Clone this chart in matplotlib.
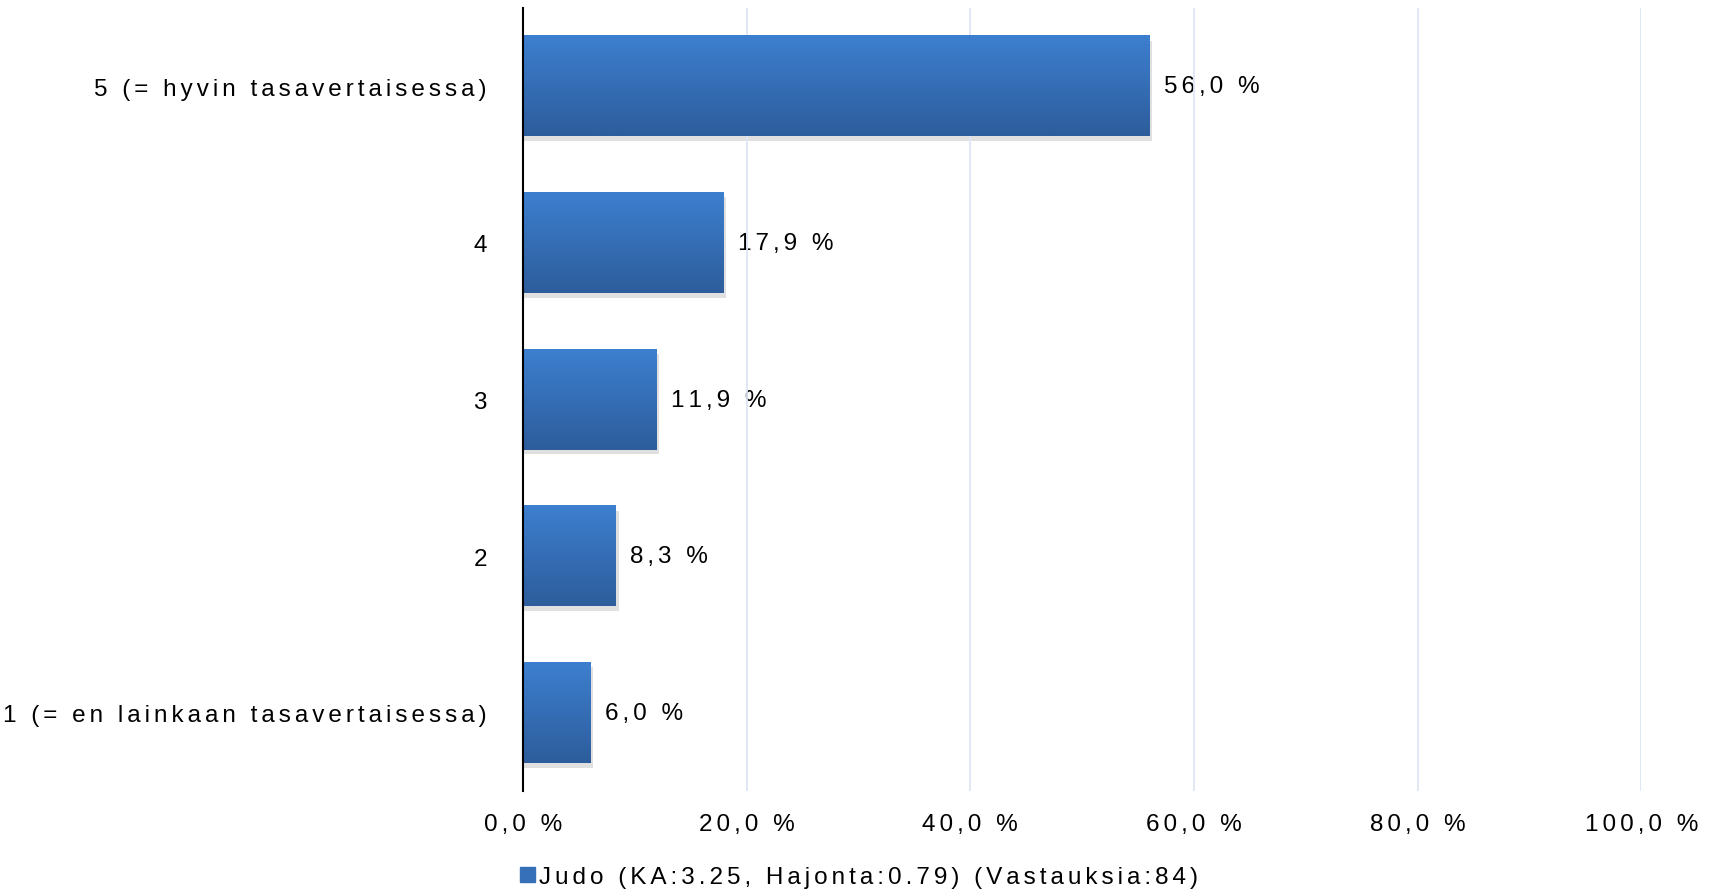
import matplotlib
matplotlib.use("Agg")
import matplotlib.pyplot as plt
import numpy as np
from matplotlib.colors import LinearSegmentedColormap

# data
categories = ["1 (= en lainkaan tasavertaisessa)", "2", "3", "4", "5 (= hyvin tasavertaisessa)"]
values = [6.0, 8.3, 11.9, 17.9, 56.0]
xticks = [0, 20, 40, 60, 80, 100]
legend_label = "Judo (KA:3.25, Hajonta:0.79) (Vastauksia:84)"

plt.rcParams['font.family'] = ['Liberation Sans', 'DejaVu Sans']
FS = 17.5

# the original uses wide letter spacing, fake it with six-per-em spaces
def spaced(s):
    return '\u2006'.join(s)

def pct(v):
    return spaced(f"{v:.1f} %".replace('.', ','))

fig = plt.figure(figsize=(17.15, 8.95), dpi=100)
ax = fig.add_axes([0.305, 0.115, 0.652, 0.875])

ypos = np.arange(len(categories))
bar_h = 0.64
bars = ax.barh(ypos, values, height=bar_h, color='#3570b8', zorder=3)

# vertical gradient + soft shadow on each bar
grad = LinearSegmentedColormap.from_list('g', ['#3d7fcf', '#2d5d9c'])
for b in bars:
    x0, y0 = b.get_x(), b.get_y()
    w, h = b.get_width(), b.get_height()
    ax.barh(y0 + h / 2 - 0.03, w + 0.25, height=h, left=x0, color='#000000',
            alpha=0.12, zorder=2, linewidth=0)
    img = np.linspace(0, 1, 100).reshape(-1, 1)
    ax.imshow(img, cmap=grad, aspect='auto', extent=[x0, x0 + w, y0, y0 + h],
              origin='upper', zorder=4)
    b.set_visible(False)

for y, v in zip(ypos, values):
    ax.text(v + 1.3, y, pct(v), va='center', ha='left', fontsize=FS, zorder=1)

ax.set_xlim(0, 100)
ax.set_ylim(-0.5, len(categories) - 0.5)
ax.set_xticks(xticks)
ax.set_xticklabels([pct(t) for t in xticks], fontsize=FS)
ax.set_yticks(ypos)
ax.set_yticklabels([spaced(c) for c in categories], fontsize=FS)
ax.tick_params(axis='both', length=0)
ax.tick_params(axis='y', pad=26)
ax.tick_params(axis='x', pad=16)

ax.grid(axis='x', color='#dce6f2', linewidth=1.3, zorder=0)
ax.set_axisbelow(False)
for s in ['top', 'right', 'bottom']:
    ax.spines[s].set_visible(False)
ax.spines['left'].set_color('black')
ax.spines['left'].set_linewidth(1.5)
ax.spines['left'].set_zorder(6)

handle = plt.Rectangle((0, 0), 1, 1, color='#3570b8')
fig.legend([handle], [spaced(legend_label)], loc='center', bbox_to_anchor=(0.501, 0.019),
           frameon=False, fontsize=FS, handlelength=0.6, handleheight=0.6,
           handletextpad=0.2)

fig.savefig("out.png", dpi=100)
